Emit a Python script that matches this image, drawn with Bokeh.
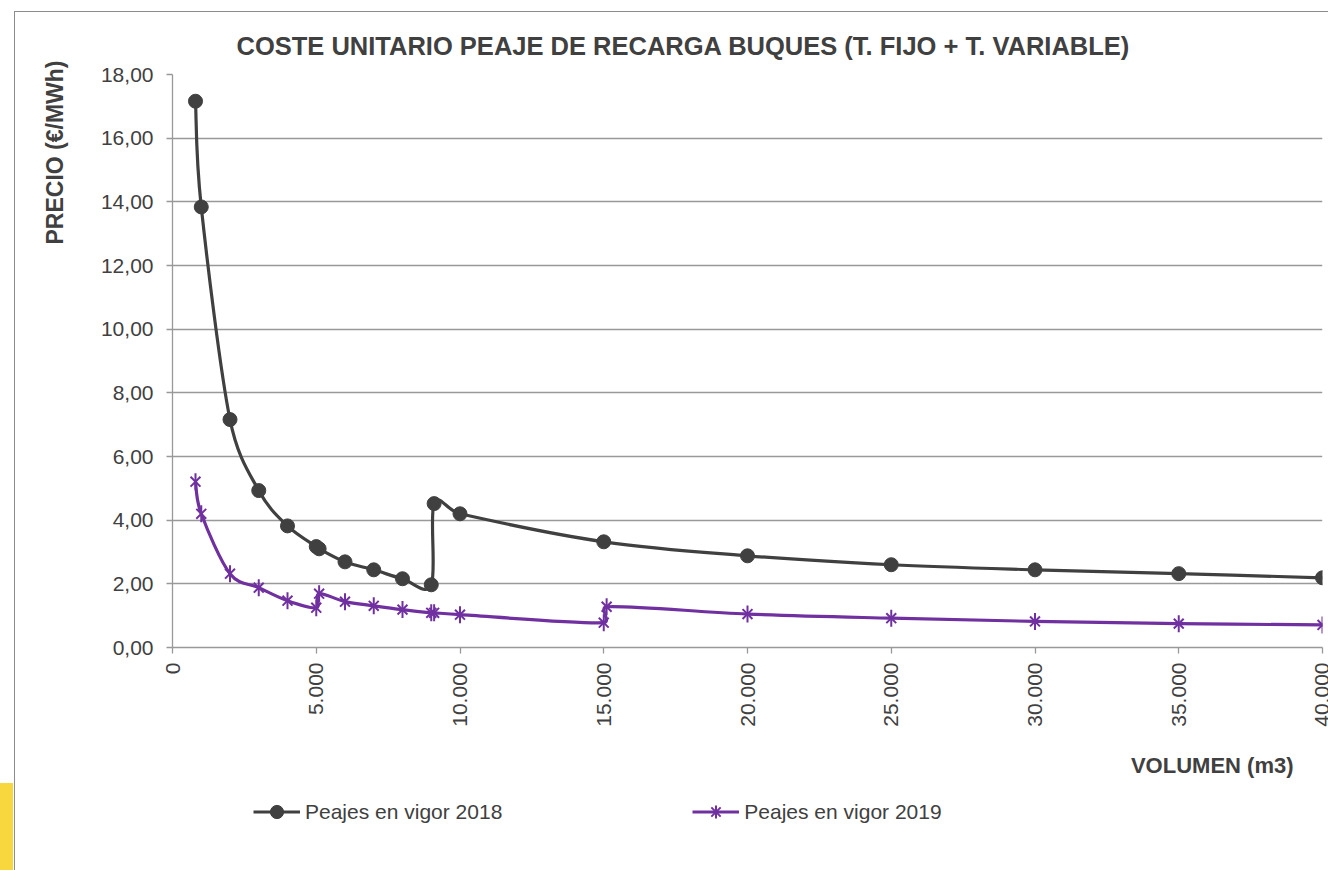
from math import pi, hypot
from bokeh.plotting import figure
from bokeh.layouts import column
from bokeh.models import (Range1d, FixedTicker, Legend, LegendItem, Title, Label,
                          ColumnDataSource, InlineStyleSheet)
from bokeh.embed import file_html
from bokeh.resources import INLINE

# ---- data ----
vol_2018 = [800, 1000, 2000, 3000, 4000, 5000, 5100, 6000, 7000, 8000, 9000, 9100,
            10000, 15000, 20000, 25000, 30000, 35000, 40000]
precio_2018 = [17.16, 13.84, 7.16, 4.93, 3.82, 3.17, 3.10, 2.69, 2.44, 2.16, 1.97, 4.52,
               4.20, 3.32, 2.88, 2.60, 2.44, 2.32, 2.19]

vol_2019 = [800, 1000, 2000, 3000, 4000, 5000, 5100, 6000, 7000, 8000, 9000, 9100,
            10000, 15000, 15100, 20000, 25000, 30000, 35000, 40000]
precio_2019 = [5.21, 4.20, 2.32, 1.88, 1.47, 1.25, 1.69, 1.44, 1.31, 1.19, 1.09, 1.09,
               1.03, 0.78, 1.28, 1.05, 0.92, 0.82, 0.75, 0.71]

series_names = ["Peajes en vigor 2018", "Peajes en vigor 2019"]

x_ticks = [0, 5000, 10000, 15000, 20000, 25000, 30000, 35000, 40000]
x_tick_labels = ["0", "5.000", "10.000", "15.000", "20.000", "25.000", "30.000", "35.000", "40.000"]
y_ticks = [0, 2, 4, 6, 8, 10, 12, 14, 16, 18]
y_tick_labels = ["0,00", "2,00", "4,00", "6,00", "8,00", "10,00", "12,00", "14,00", "16,00", "18,00"]

title_text = "COSTE UNITARIO PEAJE DE RECARGA BUQUES (T. FIJO + T. VARIABLE)"
y_title = "PRECIO (€/MWh)"
x_title = "VOLUMEN (m3)"

FONT = "Liberation Sans"
TXT = "#404040"
GRID = "#999999"
C18 = "#404040"
C19 = "#7030A0"

W = 1328
H_TOP, H_BOT = 730, 140                 # chart part / legend part
BL, BR, BT, BB = 172, 6, 74, 83
X0, X1, Y0, Y1 = 0, 40000, 0, 18
KX = (W - BL - BR) / (X1 - X0)          # px per data unit (only for the smoothing shape)
KY = (H_TOP - BT - BB) / (Y1 - Y0)


def smooth_segments(xs, ys):
    """Bezier control points of an Excel-like smoothed line through the data:
    Catmull-Rom tangents (chord of the neighbours / 6), each handle kept
    within half of its own segment."""
    n = len(xs)
    px = [x * KX for x in xs]
    py = [y * KY for y in ys]

    def tangent(i):
        a, b = max(i - 1, 0), min(i + 1, n - 1)
        return (px[b] - px[a]) / 6.0, (py[b] - py[a]) / 6.0

    def capped(t, lim):
        L = hypot(*t)
        f = 1.0 if L <= lim or L == 0 else lim / L
        return t[0] * f, t[1] * f

    out = dict(x0=[], y0=[], x1=[], y1=[], cx0=[], cy0=[], cx1=[], cy1=[])
    for i in range(n - 1):
        seg = hypot(px[i + 1] - px[i], py[i + 1] - py[i])
        h0 = capped(tangent(i), 0.5 * seg)
        h1 = capped(tangent(i + 1), 0.5 * seg)
        out["x0"].append(xs[i]); out["y0"].append(ys[i])
        out["x1"].append(xs[i + 1]); out["y1"].append(ys[i + 1])
        out["cx0"].append(xs[i] + h0[0] / KX)
        out["cy0"].append(ys[i] + h0[1] / KY)
        out["cx1"].append(xs[i + 1] - h1[0] / KX)
        out["cy1"].append(ys[i + 1] - h1[1] / KY)
    return ColumnDataSource(out)


# ================= chart =================
p = figure(width=W, height=H_TOP,
           x_range=Range1d(X0, X1), y_range=Range1d(Y0, Y1),
           output_backend="svg", toolbar_location=None,
           min_border_left=BL, min_border_right=BR,
           min_border_top=BT, min_border_bottom=BB)
p.background_fill_color = "white"
p.border_fill_color = None
p.outline_line_color = None

p.xgrid.visible = False
p.ygrid.grid_line_color = GRID
p.ygrid.grid_line_width = 1.3
p.ygrid.ticker = FixedTicker(ticks=y_ticks)

for ax in (p.xaxis[0], p.yaxis[0]):
    ax.axis_line_color = GRID
    ax.axis_line_width = 1.3
    ax.major_tick_line_color = GRID
    ax.major_tick_line_width = 1.3
    ax.major_tick_out = 6
    ax.major_tick_in = 0
    ax.minor_tick_line_color = None
    ax.major_label_text_font = FONT
    ax.major_label_text_font_size = "21px"
    ax.major_label_text_color = TXT

p.xaxis.ticker = FixedTicker(ticks=x_ticks)
p.xaxis.major_label_overrides = dict(zip(x_ticks, x_tick_labels))
p.xaxis.major_label_orientation = pi / 2
p.xaxis.major_label_standoff = 9

p.yaxis.ticker = FixedTicker(ticks=y_ticks)
p.yaxis.major_label_overrides = dict(zip(y_ticks, y_tick_labels))
p.yaxis.major_label_standoff = 13

src18 = smooth_segments(vol_2018, precio_2018)
src19 = smooth_segments(vol_2019, precio_2019)

p.bezier(x0="x0", y0="y0", x1="x1", y1="y1", cx0="cx0", cy0="cy0",
         cx1="cx1", cy1="cy1", source=src18, line_color=C18, line_width=3.2)
p.scatter(vol_2018, precio_2018, marker="circle", size=14, fill_color=C18, line_color=C18)

p.bezier(x0="x0", y0="y0", x1="x1", y1="y1", cx0="cx0", cy0="cy0",
         cx1="cx1", cy1="cy1", source=src19, line_color=C19, line_width=3.2)
p.scatter(vol_2019, precio_2019, marker="x", size=14, line_color=C19, line_width=2)
p.scatter(vol_2019, precio_2019, marker="dash", size=17, angle=pi / 2,
          line_color=C19, line_width=2)

p.add_layout(Title(text=title_text, align="left", offset=64, vertical_align="bottom",
                   standoff=30, text_font=FONT, text_font_style="bold",
                   text_font_size="25.5px", text_color=TXT), "above")
p.add_layout(Title(text=y_title, align="right", offset=-14, vertical_align="bottom",
                   standoff=60, text_font=FONT, text_font_style="bold",
                   text_font_size="23px", text_color=TXT), "left")

# ================= axis title + legend strip =================
q = figure(width=W, height=H_BOT, x_range=Range1d(X0, X1), y_range=Range1d(Y0, Y1),
           output_backend="svg", toolbar_location=None,
           x_axis_location=None, y_axis_location=None,
           min_border_left=BL, min_border_right=BR, min_border_top=0, min_border_bottom=0)
q.grid.visible = False
q.outline_line_color = None
q.background_fill_color = None
q.border_fill_color = None

q.add_layout(Label(x=1293 - BL, y=105, x_units="screen", y_units="screen", text=x_title,
                   text_align="right", text_baseline="alphabetic", text_font=FONT,
                   text_font_style="bold", text_font_size="22px", text_color=TXT))

# legend carriers: the series with their styles, hidden (only their legend samples show)
l18 = q.line(vol_2018, precio_2018, line_color=C18, line_width=3.2, visible=False)
m18 = q.scatter(vol_2018, precio_2018, marker="circle", size=14, fill_color=C18,
                line_color=C18, visible=False)
l19 = q.line(vol_2019, precio_2019, line_color=C19, line_width=3.2, visible=False)
m19 = q.scatter(vol_2019, precio_2019, marker="asterisk", size=14, line_color=C19,
                line_width=2, visible=False)

legend = Legend(items=[LegendItem(label=series_names[0], renderers=[l18, m18]),
                       LegendItem(label=series_names[1], renderers=[l19, m19])],
                location=(253 - BL, 42), orientation="horizontal",
                glyph_width=47, glyph_height=33, label_height=21,
                label_standoff=5, padding=0, margin=0, spacing=190,
                border_line_color=None, background_fill_alpha=0,
                label_text_font=FONT, label_text_font_size="21px",
                label_text_color=TXT, click_policy="none")
q.add_layout(legend, "center")

layout = column(p, q, spacing=0)
layout.stylesheets.append(InlineStyleSheet(css="""
:host { position: relative; background: white; }
:host::after { content: ""; position: absolute; left: 14px; top: 11px; right: 0; bottom: 0;
  border-left: 1.5px solid #8c8c8c; border-top: 1.5px solid #8c8c8c; pointer-events: none; }
:host::before { content: ""; position: absolute; left: 0; top: 783px; width: 13px; height: 87px;
  background: #F8D63E; z-index: 1; }
"""))

open("out.html", "w").write(file_html(layout, INLINE))
